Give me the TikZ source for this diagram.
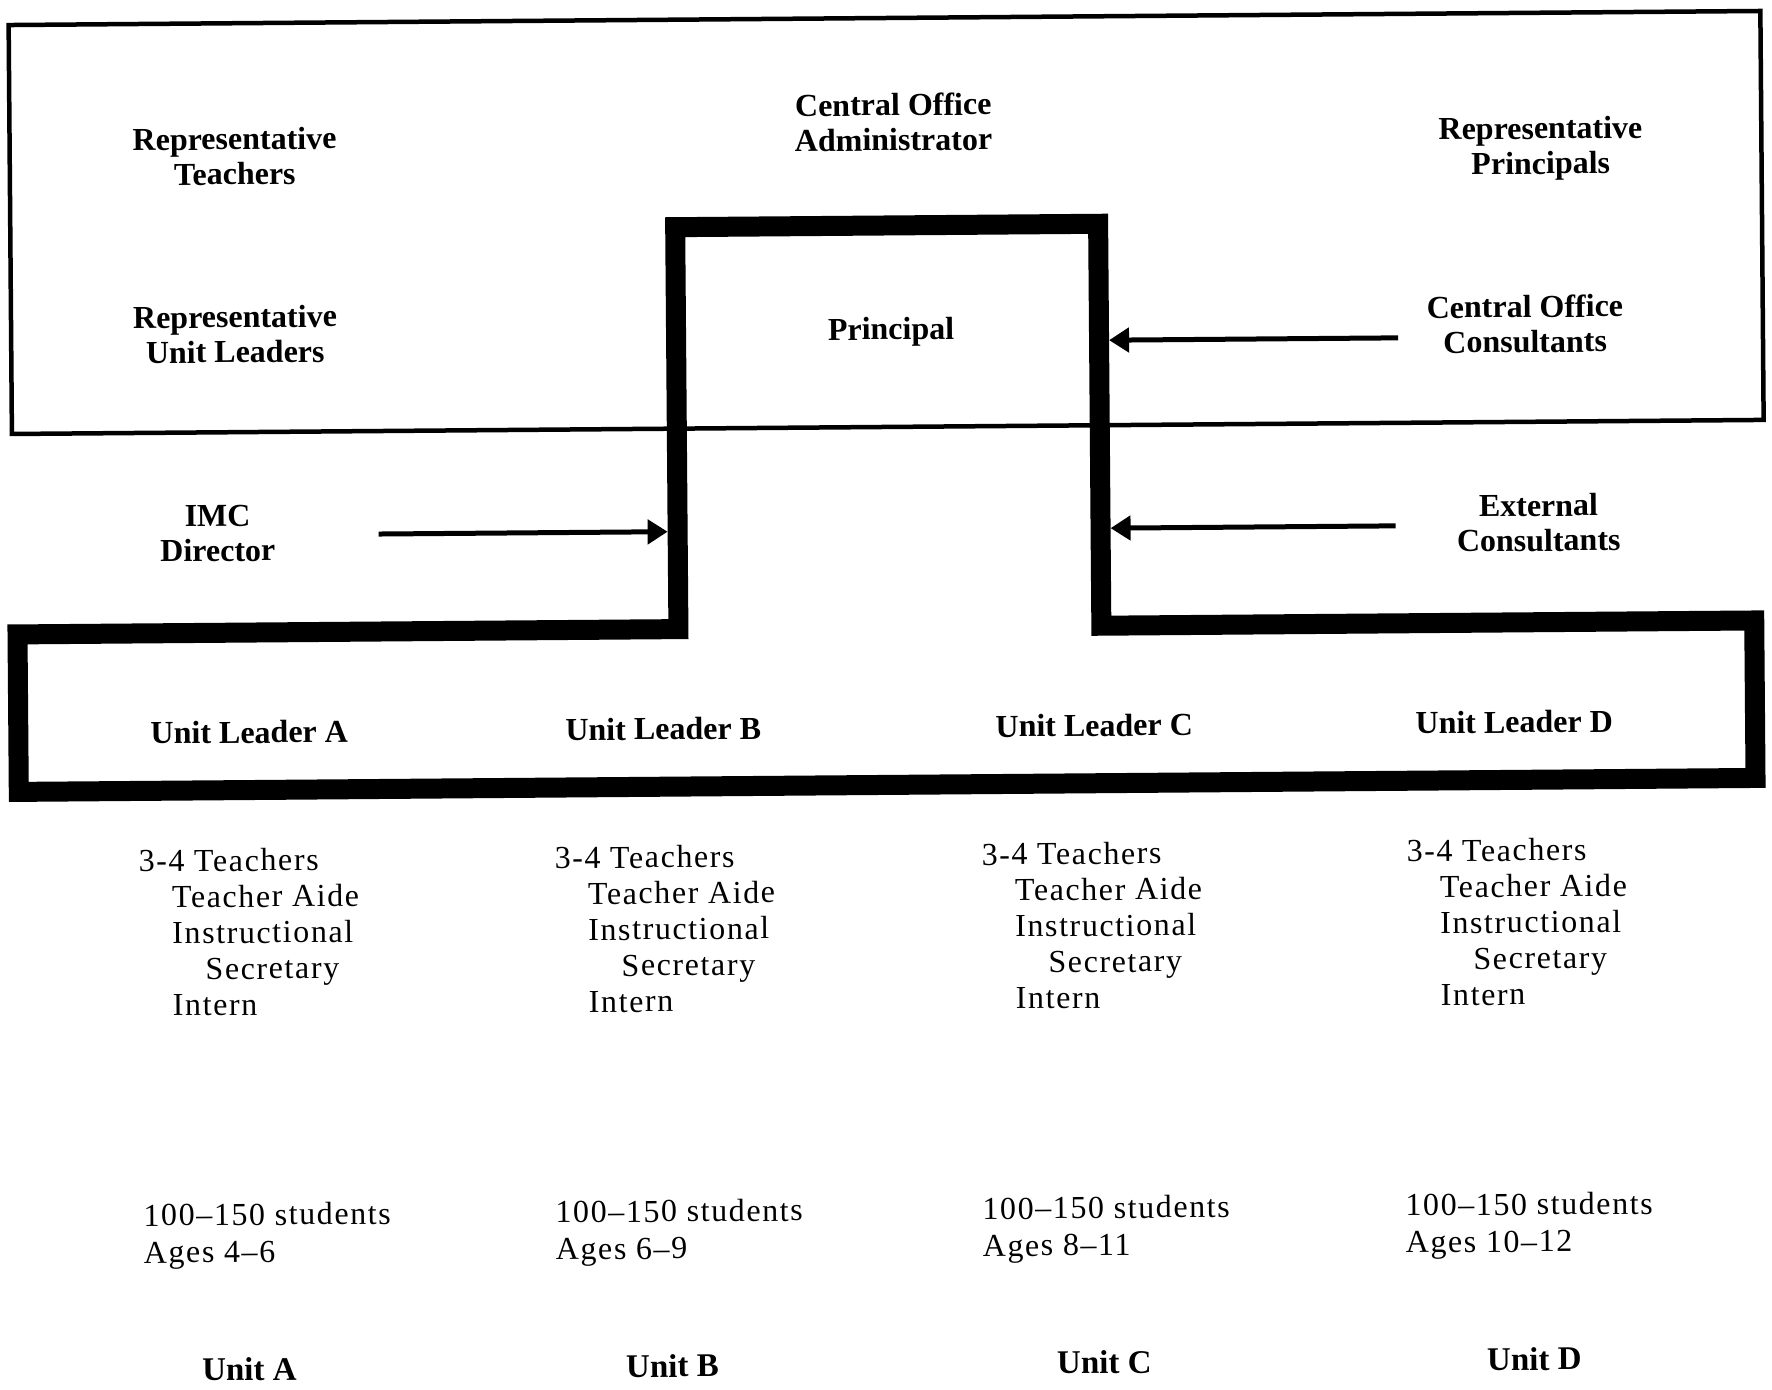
\documentclass[tikz,border=0pt]{standalone}
\usepackage{fontspec}
\setmainfont{Liberation Serif}
\newfontfamily\listfont[LetterSpace=5]{Liberation Serif}
\usetikzlibrary{arrows.meta}
\begin{document}
\begin{tikzpicture}[x=0.5pt,y=-0.5pt,
  thinbox/.style={line width=2.25pt},
  thickbox/.style={line width=10pt, line join=miter},
  feed/.style={line width=2.5pt, -{Triangle[length=10pt,width=12pt]}},
  lbl/.style={font=\fontsize{16}{17.5}\selectfont\bfseries, align=center, inner sep=0pt},
  lst/.style={font=\fontsize{16}{18}\listfont, align=left, inner sep=0pt, anchor=west},
  stu/.style={font=\fontsize{16}{18.5}\listfont, align=left, inner sep=0pt, anchor=west},
  unit/.style={font=\fontsize{16.5}{18}\selectfont\bfseries, inner sep=0pt}]
\useasboundingbox (0,0) rectangle (1772,1390);
\begin{scope}[rotate around={0.46:(886,695)}, transform shape]
  % thin outer rectangle (board)
  \coordinate (bTL) at (14,18);
  \coordinate (bBR) at (1766,427);
  \draw[thinbox] (bTL) rectangle (bBR);
  % thick T-shaped outline
  \coordinate (tA) at (18,627.5);
  \coordinate (tB) at (679,627.5);
  \coordinate (tC) at (679,225.5);
  \coordinate (tD) at (1102,225.5);
  \coordinate (tE) at (1102,627.5);
  \coordinate (tF) at (1755,627.5);
  \coordinate (tG) at (1755,785);
  \coordinate (tH) at (18,785);
  \draw[thickbox] (tA) -- (tB) -- (tC) -- (tD) -- (tE) -- (tF) -- (tG) -- (tH) -- cycle;

  % labels in the board
  \node[lbl] (repT) at (239,151) {Representative\\Teachers};
  \node[lbl] (coa) at (898,122) {Central Office\\Administrator};
  \node[lbl] (repP) at (1545,154) {Representative\\Principals};
  \node[lbl] (repU) at (238,329) {Representative\\Unit Leaders};
  \node[lbl] (prin) at (894,332) {Principal};
  \node[lbl] (coc) at (1528,329) {Central Office\\Consultants};
  \node[lbl] (imc) at (219,528) {IMC\\Director};
  \node[lbl] (ext) at (1540,528) {External\\Consultants};

  % arrows
  \coordinate (imcS) at (380,530);
  \coordinate (imcE) at (669,530);
  \coordinate (cocS) at (1401,342);
  \coordinate (cocE) at (1112,342);
  \coordinate (extS) at (1397,530);
  \coordinate (extE) at (1112,530);
  \draw[feed] (imcS) -- (imcE);
  \draw[feed] (cocS) -- (cocE);
  \draw[feed] (extS) -- (extE);

  % unit leaders
  \node[lbl] (ulA) at (249,727) {Unit Leader A};
  \node[lbl] (ulB) at (663,727) {Unit Leader B};
  \node[lbl] (ulC) at (1094,727) {Unit Leader C};
  \node[lbl] (ulD) at (1514,727) {Unit Leader D};

  % staff lists
  \node[lst] (lsA) at (137,927) {3-4 Teachers\\\hspace*{16.5pt}Teacher Aide\\\hspace*{16.5pt}Instructional\\\hspace*{33pt}Secretary\\\hspace*{16.5pt}Intern};
  \node[lst] (lsB) at (553,927) {3-4 Teachers\\\hspace*{16.5pt}Teacher Aide\\\hspace*{16.5pt}Instructional\\\hspace*{33pt}Secretary\\\hspace*{16.5pt}Intern};
  \node[lst] (lsC) at (980,927) {3-4 Teachers\\\hspace*{16.5pt}Teacher Aide\\\hspace*{16.5pt}Instructional\\\hspace*{33pt}Secretary\\\hspace*{16.5pt}Intern};
  \node[lst] (lsD) at (1405,927) {3-4 Teachers\\\hspace*{16.5pt}Teacher Aide\\\hspace*{16.5pt}Instructional\\\hspace*{33pt}Secretary\\\hspace*{16.5pt}Intern};

  % students
  \node[stu] (stA) at (139,1231) {100–150 students\\Ages 4–6};
  \node[stu] (stB) at (551,1231) {100–150 students\\Ages 6–9};
  \node[stu] (stC) at (978,1231) {100–150 students\\Ages 8–11};
  \node[stu] (stD) at (1401,1231) {100–150 students\\Ages 10–12};

  % unit names
  \node[unit] (uA) at (244,1364) {Unit A};
  \node[unit] (uB) at (667,1364) {Unit B};
  \node[unit] (uC) at (1099,1364) {Unit C};
  \node[unit] (uD) at (1529,1364) {Unit D};
\end{scope}
\end{tikzpicture}
\end{document}
